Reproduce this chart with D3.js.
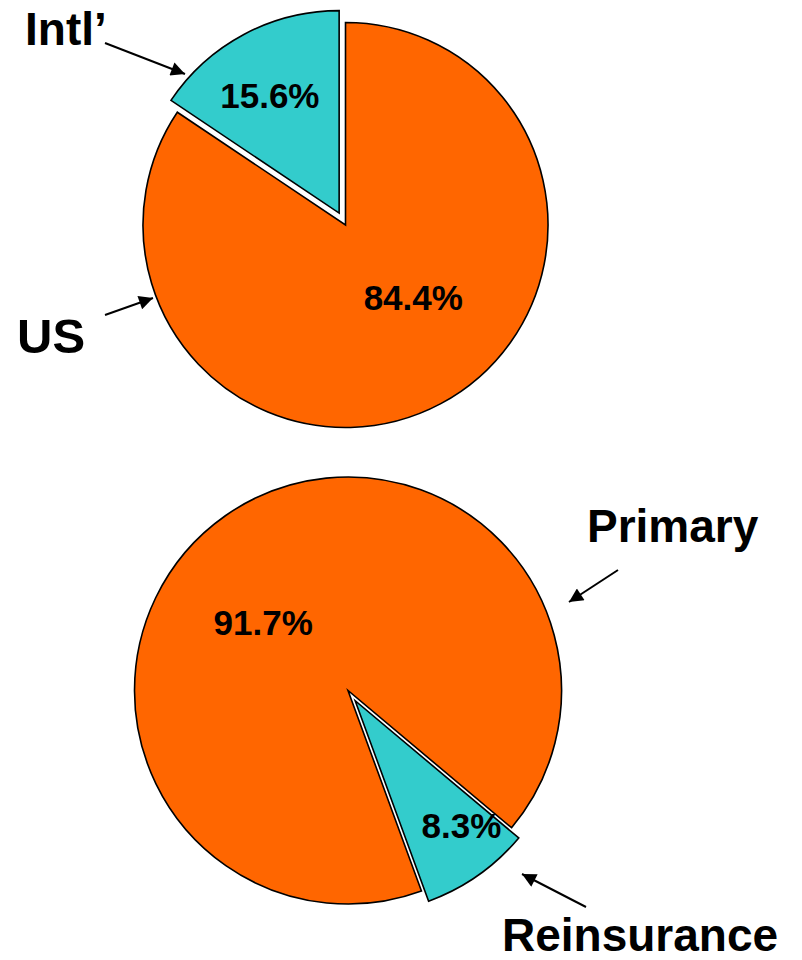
<!DOCTYPE html>
<html>
<head>
<meta charset="utf-8">
<script src="https://cdn.jsdelivr.net/npm/d3@7"></script>
<style>
  html, body { margin: 0; padding: 0; background: #fff; }
  svg { display: block; }
  text { font-family: Arial, "Liberation Sans", Helvetica, sans-serif; font-weight: bold; fill: #000; }
</style>
</head>
<body>
<svg id="chart" width="802" height="960"></svg>
<script>
// Geographic split
const geoCategories = ["US", "Intl’"];
const geoValues = [84.4, 15.6];

// Business-line split
const lineCategories = ["Reinsurance", "Primary"];
const lineValues = [8.3, 91.7];

const colors = { main: "#FF6600", accent: "#33CCCC" };
const deg = Math.PI / 180;

const svg = d3.select("#chart");

// Arrowhead used by the callout lines
svg.append("defs").append("marker")
  .attr("id", "arrow")
  .attr("viewBox", "0 0 10 10")
  .attr("refX", 10).attr("refY", 5)
  .attr("markerUnits", "userSpaceOnUse")
  .attr("markerWidth", 18).attr("markerHeight", 14)
  .attr("orient", "auto")
  .append("path").attr("d", "M0,0 L10,5 L0,10 Z").attr("fill", "#000");

function drawPie(cfg) {
  const pie = d3.pie().sort(null)
    .startAngle(cfg.start * deg).endAngle(cfg.start * deg + 2 * Math.PI);
  const arcs = pie(cfg.values);
  const arc = d3.arc().innerRadius(0).outerRadius(cfg.r);
  const g = svg.append("g").attr("transform", `translate(${cfg.cx},${cfg.cy})`);

  const offsetOf = (d, i) => {
    if (i !== cfg.explode) return [0, 0];
    const a = (d.startAngle + d.endAngle) / 2;
    return [Math.sin(a) * cfg.explodeBy, -Math.cos(a) * cfg.explodeBy];
  };

  g.selectAll("path.slice").data(arcs).join("path")
    .attr("class", "slice")
    .attr("d", arc)
    .attr("transform", (d, i) => `translate(${offsetOf(d, i)})`)
    .attr("fill", (d, i) => cfg.fills[i])
    .attr("stroke", "#000")
    .attr("stroke-width", 1.6)
    .attr("stroke-linejoin", "miter");

  // Percentage labels placed along each slice at a chosen angle/radius
  g.selectAll("text.pct").data(arcs).join("text")
    .attr("class", "pct")
    .attr("x", (d, i) => offsetOf(d, i)[0] + Math.sin(cfg.labelAt[i][0] * deg) * cfg.labelAt[i][1])
    .attr("y", (d, i) => offsetOf(d, i)[1] - Math.cos(cfg.labelAt[i][0] * deg) * cfg.labelAt[i][1])
    .attr("text-anchor", "middle")
    .attr("dominant-baseline", "central")
    .attr("font-size", 35)
    .text(d => d3.format(".1f")(d.data) + "%");
}

drawPie({
  values: geoValues, start: 0, cx: 345.5, cy: 225, r: 202.5,
  explode: 1, explodeBy: 13.5, fills: [colors.main, colors.accent],
  labelAt: [[136.8, 99], [-30.5, 136.5]]
});

drawPie({
  values: lineValues, start: 130, cx: 348, cy: 690.5, r: 213.5,
  explode: 0, explodeBy: 12.5, fills: [colors.accent, colors.main],
  labelAt: [[139.6, 164], [308.9, 109]]
});

// Category callouts
const callouts = [
  { text: geoCategories[1], x: 25, y: 45, size: 46, from: [105, 43], to: [185, 74] },
  { text: geoCategories[0], x: 17, y: 353, size: 49, from: [105, 315], to: [153, 298] },
  { text: lineCategories[1], x: 587, y: 542, size: 46, from: [618, 570], to: [569, 602] },
  { text: lineCategories[0], x: 502, y: 951, size: 46, from: [586, 907], to: [522, 874] }
];

svg.selectAll("line.callout").data(callouts).join("line")
  .attr("class", "callout")
  .attr("x1", d => d.from[0]).attr("y1", d => d.from[1])
  .attr("x2", d => d.to[0]).attr("y2", d => d.to[1])
  .attr("stroke", "#000").attr("stroke-width", 2)
  .attr("marker-end", "url(#arrow)");

svg.selectAll("text.cat").data(callouts).join("text")
  .attr("class", "cat")
  .attr("x", d => d.x).attr("y", d => d.y)
  .attr("font-size", d => d.size)
  .text(d => d.text);
</script>
</body>
</html>
